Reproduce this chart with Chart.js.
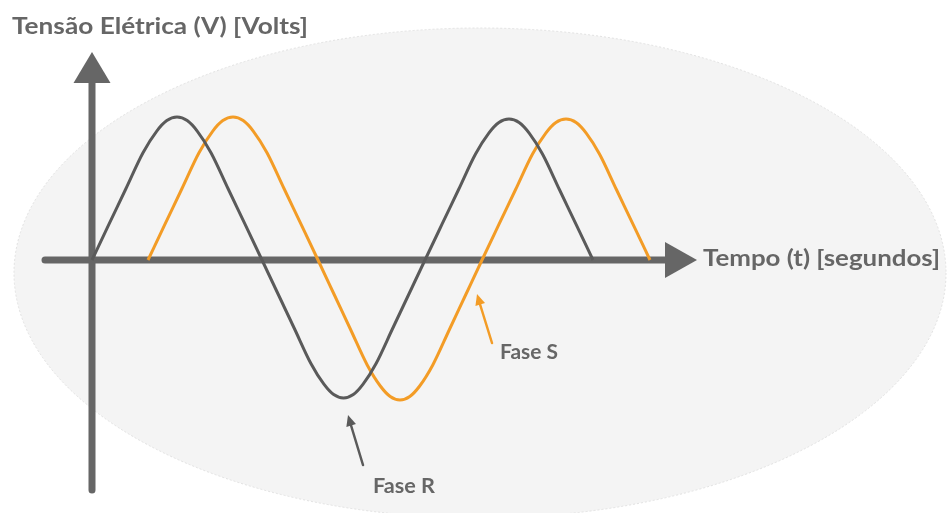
<!DOCTYPE html>
<html><head><meta charset="utf-8">
<script src="https://cdn.jsdelivr.net/npm/chart.js@4"></script>
<style>html,body{margin:0;padding:0;background:#fff;overflow:hidden}#wrap{width:947px;height:513px;position:relative}</style>
</head><body><div id="wrap"><canvas id="c"></canvas></div>
<script>
// Axis titles and series names
const yAxisTitle = 'Tensão Elétrica (V) [Volts]';
const xAxisTitle = 'Tempo (t) [segundos]';
const seriesNames = ['Fase R', 'Fase S'];

// Fase R (dark) – time and voltage (arbitrary units)
const faseR_t = [0, 1.7, 3.4, 5.1, 6.46, 7.48, 8.5, 9.52, 10.54, 11.9, 13.6, 15.3, 17.0,
  18.63, 20.26, 21.89, 23.19, 24.17, 25.15, 26.13, 27.11, 28.41, 30.04, 31.67, 33.3,
  34.98, 36.66, 38.34, 39.68, 40.69, 41.7, 42.71, 43.72, 45.06, 46.74, 48.42, 50.1];
const faseR_v = [0, 3.58, 7.15, 10.73, 12.87, 13.94, 14.3, 13.94, 12.87, 10.73, 7.15, 3.58, 0,
  -3.45, -6.9, -10.35, -12.42, -13.46, -13.8, -13.46, -12.42, -10.35, -6.9, -3.45, 0,
  3.53, 7.05, 10.58, 12.69, 13.75, 14.1, 13.75, 12.69, 10.58, 7.05, 3.53, 0];

// Fase S (orange)
const faseS_t = [5.6, 7.3, 9.0, 10.7, 12.06, 13.08, 14.1, 15.12, 16.14, 17.5, 19.2, 20.9, 22.6,
  24.24, 25.88, 27.52, 28.83, 29.82, 30.8, 31.78, 32.77, 34.08, 35.72, 37.36, 39.0,
  40.68, 42.36, 44.04, 45.38, 46.39, 47.4, 48.41, 49.42, 50.76, 52.44, 54.12, 55.8];
const faseS_v = [0, 3.58, 7.15, 10.73, 12.87, 13.94, 14.3, 13.94, 12.87, 10.73, 7.15, 3.58, 0,
  -3.5, -7.0, -10.5, -12.6, -13.65, -14.0, -13.65, -12.6, -10.5, -7.0, -3.5, 0,
  3.53, 7.05, 10.58, 12.69, 13.75, 14.1, 13.75, 12.69, 10.58, 7.05, 3.53, 0];

const toPts = (t, v) => t.map((x, i) => ({x: x, y: v[i]}));

const AXIS = '#666666';
const DARK = '#5a5a5a';
const ORANGE = '#f39c26';

function fitText(ctx, text, x, base, width, font, color) {
  ctx.save();
  ctx.font = font;
  ctx.fillStyle = color;
  ctx.textBaseline = 'alphabetic';
  const w = ctx.measureText(text).width;
  ctx.translate(x, base);
  ctx.scale(width / w, 1);
  ctx.fillText(text, 0, 0);
  ctx.restore();
}

function arrowHead(ctx, fx, fy, tx, ty, len, half, color) {
  const a = Math.atan2(ty - fy, tx - fx);
  ctx.save();
  ctx.fillStyle = color;
  ctx.translate(tx, ty);
  ctx.rotate(a);
  ctx.beginPath();
  ctx.moveTo(0, 0);
  ctx.lineTo(-len, -half);
  ctx.lineTo(-len, half);
  ctx.closePath();
  ctx.fill();
  ctx.restore();
}

const decor = {
  id: 'decor',
  beforeDraw(chart) {
    const ctx = chart.ctx;
    ctx.save();
    ctx.fillStyle = '#ffffff';
    ctx.fillRect(0, 0, chart.width, chart.height);
    ctx.fillStyle = '#f4f4f4';
    ctx.beginPath();
    ctx.ellipse(480, 273, 466, 245, 0, 0, Math.PI * 2);
    ctx.fill();
    ctx.strokeStyle = '#e2e2e2';
    ctx.lineWidth = 1;
    ctx.setLineDash([2, 2]);
    ctx.stroke();
    ctx.restore();
  },
  beforeDatasetsDraw(chart) {
    const ctx = chart.ctx, xs = chart.scales.x, ys = chart.scales.y;
    const x0 = xs.getPixelForValue(0), y0 = ys.getPixelForValue(0);
    ctx.save();
    ctx.strokeStyle = AXIS;
    ctx.fillStyle = AXIS;
    ctx.lineWidth = 7;
    ctx.lineCap = 'round';
    const xl = xs.getPixelForValue(-4.7), xb = xs.getPixelForValue(57.3), xt = xs.getPixelForValue(60.5);
    ctx.beginPath(); ctx.moveTo(xl, y0); ctx.lineTo(xb + 2, y0); ctx.stroke();
    ctx.beginPath(); ctx.moveTo(xt, y0); ctx.lineTo(xb, y0 - 18); ctx.lineTo(xb, y0 + 18); ctx.closePath(); ctx.fill();
    const yb = ys.getPixelForValue(-23), yh = ys.getPixelForValue(17.7), ytp = ys.getPixelForValue(20.8);
    ctx.beginPath(); ctx.moveTo(x0, yb); ctx.lineTo(x0, yh - 2); ctx.stroke();
    ctx.beginPath(); ctx.moveTo(x0, ytp); ctx.lineTo(x0 - 18.5, yh); ctx.lineTo(x0 + 18.5, yh); ctx.closePath(); ctx.fill();
    ctx.restore();
  },
  afterDraw(chart) {
    const ctx = chart.ctx;
    fitText(ctx, yAxisTitle, 12, 34, 296, 'bold 22px Lato, sans-serif', AXIS);
    fitText(ctx, xAxisTitle, 703, 266, 237, 'bold 23px Lato, sans-serif', AXIS);
    fitText(ctx, seriesNames[1], 500, 359, 58, 'bold 20px Lato, sans-serif', AXIS);
    fitText(ctx, seriesNames[0], 373, 493, 62, 'bold 20px Lato, sans-serif', AXIS);
    ctx.save();
    ctx.lineWidth = 2.5;
    ctx.lineCap = 'round';
    ctx.strokeStyle = DARK;
    ctx.beginPath(); ctx.moveTo(363, 465); ctx.lineTo(350, 422); ctx.stroke();
    arrowHead(ctx, 363, 465, 348, 415, 11, 5, DARK);
    ctx.strokeStyle = ORANGE;
    ctx.beginPath(); ctx.moveTo(492, 343); ctx.lineTo(479, 301); ctx.stroke();
    arrowHead(ctx, 492, 343, 477, 294, 11, 5, ORANGE);
    ctx.restore();
  }
};

new Chart(document.getElementById('c'), {
  type: 'line',
  data: {
    datasets: [
      {label: seriesNames[0], data: toPts(faseR_t, faseR_v), borderColor: DARK, borderWidth: 3, pointRadius: 0, cubicInterpolationMode: 'monotone', fill: false, clip: false},
      {label: seriesNames[1], data: toPts(faseS_t, faseS_v), borderColor: ORANGE, borderWidth: 3, pointRadius: 0, cubicInterpolationMode: 'monotone', fill: false, clip: false}
    ]
  },
  options: {
    responsive: true,
    maintainAspectRatio: false,
    animation: false,
    events: [],
    layout: {padding: 0},
    plugins: {legend: {display: false}, tooltip: {enabled: false}, title: {display: false}},
    scales: {
      x: {type: 'linear', min: -9.2, max: 85.5, display: false},
      y: {type: 'linear', min: -25.3, max: 26.0, display: false}
    }
  },
  plugins: [decor]
});
</script>
</body></html>
